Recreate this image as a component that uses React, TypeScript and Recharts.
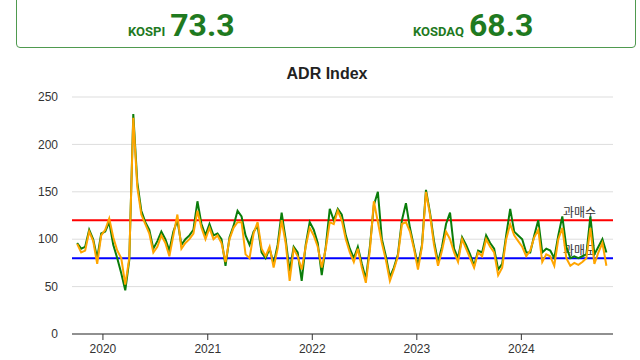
import { CartesianGrid, Line, LineChart, ReferenceLine, XAxis, YAxis } from "recharts";

const DAY = 24 * 60 * 60 * 1000;
const startDate = Date.UTC(2019, 9, 3);
const stepDays = 14;

// KOSPI ADR (green), every two weeks
const kospi = [
  96, 90, 92, 110, 100, 80, 106, 108, 118, 94, 80, 64, 46, 78, 232, 160, 130, 118, 110, 90,
  98, 108, 100, 88, 108, 120, 94, 100, 104, 110, 140, 116, 104, 116, 104, 106, 100, 72, 102, 114,
  130, 124, 104, 94, 108, 114, 86, 80, 90, 74, 94, 128, 100, 66, 92, 86, 56, 94, 118, 110,
  96, 62, 92, 132, 120, 132, 126, 104, 90, 80, 92, 74, 58, 92, 136, 150, 100, 82, 60, 70,
  84, 120, 138, 112, 92, 72, 94, 152, 128, 98, 76, 92, 116, 128, 90, 80, 102, 94, 84, 72,
  88, 86, 104, 96, 90, 68, 74, 104, 132, 108, 104, 100, 86, 86, 104, 120, 86, 90, 88, 80,
  104, 124, 92, 80, 82, 80, 82, 84, 124, 84, 92, 100, 86,
];

// KOSDAQ ADR (orange)
const kosdaq = [
  95, 86, 88, 108, 98, 74, 104, 110, 122, 102, 88, 80, 52, 80, 228, 155, 126, 116, 106, 86,
  92, 104, 96, 82, 104, 126, 90, 96, 100, 106, 130, 112, 100, 112, 100, 104, 96, 76, 100, 112,
  118, 118, 84, 80, 106, 118, 90, 82, 92, 70, 90, 120, 96, 56, 90, 82, 68, 92, 112, 104,
  92, 70, 90, 118, 116, 130, 120, 100, 86, 76, 90, 70, 54, 88, 140, 118, 96, 78, 56, 68,
  82, 116, 118, 108, 90, 68, 92, 150, 126, 94, 72, 88, 108, 100, 86, 76, 100, 90, 80, 70,
  86, 82, 100, 92, 86, 62, 70, 100, 116, 104, 98, 92, 82, 88, 102, 110, 76, 84, 82, 72,
  100, 112, 80, 72, 75, 73, 76, 80, 112, 74, 86, 96, 72,
];

const yearTicks = [2020, 2021, 2022, 2023, 2024];
const valueTicks = [0, 50, 100, 150, 200, 250];
const overbought = 120;
const oversold = 80;

const data = kospi.map((v, i) => ({
  t: startDate + i * stepDays * DAY,
  kospi: v,
  kosdaq: kosdaq[i],
}));

const xTicks = yearTicks.map((y) => Date.UTC(y, 0, 1));
const xDomain = [Date.UTC(2019, 8, 15), Date.UTC(2024, 10, 16)];

const lineLabel = (text: string) => (props: any) => {
  const vb = props.viewBox;
  return (
    <text
      x={vb.x + vb.width - 17}
      y={vb.y - 3}
      textAnchor="end"
      fontSize={12}
      fill="#333"
      fontFamily="'Noto Sans CJK KR', sans-serif"
    >
      {text}
    </text>
  );
};

export default function App() {
  return (
    <div
      style={{
        position: "absolute",
        left: 0,
        top: 0,
        width: 640,
        height: 360,
        overflow: "hidden",
        background: "#fff",
        fontFamily: "'Liberation Sans', Arial, sans-serif",
      }}
    >
      <div
        style={{
          position: "absolute",
          left: 16,
          top: -40,
          width: 618,
          height: 86,
          border: "1px solid #4f9a4f",
          borderRadius: 4,
        }}
      />
      <div style={{ position: "absolute", left: 128, top: 6, display: "flex", alignItems: "baseline", fontFamily: "Roboto, sans-serif", color: "#1f7a1f", fontWeight: 700 }}>
        <span style={{ fontSize: 13, marginRight: 5 }}>KOSPI</span>
        <span style={{ fontSize: 32 }}>73.3</span>
      </div>
      <div style={{ position: "absolute", left: 413, top: 6, display: "flex", alignItems: "baseline", fontFamily: "Roboto, sans-serif", color: "#1f7a1f", fontWeight: 700 }}>
        <span style={{ fontSize: 13, marginRight: 5 }}>KOSDAQ</span>
        <span style={{ fontSize: 32 }}>68.3</span>
      </div>
      <div
        style={{
          position: "absolute",
          left: 0,
          top: 65,
          width: 654,
          textAlign: "center",
          fontSize: 16,
          fontWeight: 700,
          color: "#222",
        }}
      >
        ADR Index
      </div>
      <div style={{ position: "absolute", left: 0, top: 0 }}>
        <LineChart width={640} height={360} data={data} margin={{ top: 97, right: 27, bottom: 0, left: 0 }}>
          <CartesianGrid vertical={false} stroke="#dddddd" />
          <XAxis
            dataKey="t"
            type="number"
            domain={xDomain}
            ticks={xTicks}
            allowDataOverflow
            tickFormatter={(v: number) => String(new Date(v).getUTCFullYear())}
            height={26}
            stroke="#333"
            tick={{ fill: "#333", fontSize: 12 }}
            tickMargin={4}
          />
          <YAxis
            width={72}
            domain={[0, 250]}
            ticks={valueTicks}
            axisLine={false}
            tickLine={false}
            tick={{ fill: "#333", fontSize: 12 }}
            tickMargin={8}
          />
          <ReferenceLine y={overbought} stroke="#ff0000" strokeWidth={2} label={lineLabel("과매수")} />
          <ReferenceLine y={oversold} stroke="#0000ff" strokeWidth={2} label={lineLabel("과매도")} />
          <Line dataKey="kospi" stroke="#0a7d0a" strokeWidth={2} dot={false} isAnimationActive={false} />
          <Line dataKey="kosdaq" stroke="#ffa500" strokeWidth={2} dot={false} isAnimationActive={false} />
        </LineChart>
      </div>
    </div>
  );
}
